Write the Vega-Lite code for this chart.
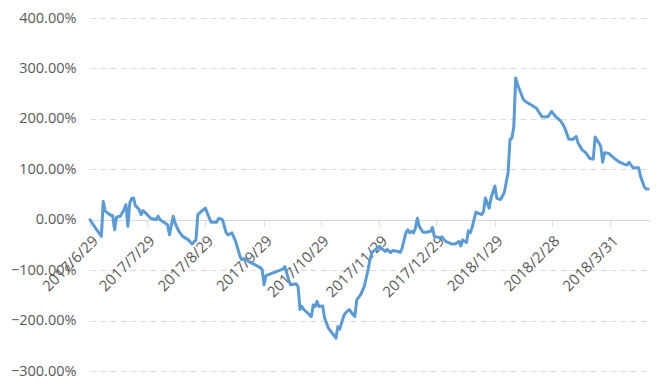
{
  "$schema": "https://vega.github.io/schema/vega-lite/v6.json",
  "width": 560,
  "height": 353,
  "autosize": {"type": "none"},
  "padding": {"left": 90, "top": 18, "right": 13, "bottom": 13},
  "background": "white",
  "config": {"view": {"stroke": null}, "font": "Open Sans"},
  "data": {"values": [
    {"date": "2017/6/29", "v": 0.00},
    {"date": "2017/7/2", "v": -0.17},
    {"date": "2017/7/5", "v": -0.33},
    {"date": "2017/7/6", "v": 0.36},
    {"date": "2017/7/7", "v": 0.17},
    {"date": "2017/7/10", "v": 0.09},
    {"date": "2017/7/11", "v": 0.08},
    {"date": "2017/7/12", "v": -0.20},
    {"date": "2017/7/13", "v": 0.05},
    {"date": "2017/7/15", "v": 0.07},
    {"date": "2017/7/17", "v": 0.20},
    {"date": "2017/7/18", "v": 0.30},
    {"date": "2017/7/19", "v": -0.13},
    {"date": "2017/7/20", "v": 0.33},
    {"date": "2017/7/21", "v": 0.42},
    {"date": "2017/7/22", "v": 0.43},
    {"date": "2017/7/23", "v": 0.28},
    {"date": "2017/7/25", "v": 0.20},
    {"date": "2017/7/26", "v": 0.10},
    {"date": "2017/7/27", "v": 0.18},
    {"date": "2017/7/29", "v": 0.11},
    {"date": "2017/7/31", "v": 0.03},
    {"date": "2017/8/3", "v": 0.00},
    {"date": "2017/8/4", "v": 0.07},
    {"date": "2017/8/5", "v": 0.00},
    {"date": "2017/8/7", "v": -0.05},
    {"date": "2017/8/9", "v": -0.10},
    {"date": "2017/8/10", "v": -0.30},
    {"date": "2017/8/12", "v": 0.07},
    {"date": "2017/8/13", "v": -0.07},
    {"date": "2017/8/15", "v": -0.23},
    {"date": "2017/8/17", "v": -0.33},
    {"date": "2017/8/20", "v": -0.40},
    {"date": "2017/8/22", "v": -0.48},
    {"date": "2017/8/24", "v": -0.40},
    {"date": "2017/8/25", "v": 0.10},
    {"date": "2017/8/27", "v": 0.17},
    {"date": "2017/8/29", "v": 0.23},
    {"date": "2017/8/30", "v": 0.13},
    {"date": "2017/9/1", "v": -0.05},
    {"date": "2017/9/4", "v": -0.05},
    {"date": "2017/9/5", "v": 0.03},
    {"date": "2017/9/7", "v": 0.00},
    {"date": "2017/9/9", "v": -0.26},
    {"date": "2017/9/10", "v": -0.30},
    {"date": "2017/9/12", "v": -0.26},
    {"date": "2017/9/14", "v": -0.43},
    {"date": "2017/9/16", "v": -0.69},
    {"date": "2017/9/17", "v": -0.79},
    {"date": "2017/9/19", "v": -0.78},
    {"date": "2017/9/21", "v": -0.83},
    {"date": "2017/9/24", "v": -0.89},
    {"date": "2017/9/27", "v": -0.95},
    {"date": "2017/9/28", "v": -0.99},
    {"date": "2017/9/29", "v": -1.29},
    {"date": "2017/9/30", "v": -1.11},
    {"date": "2017/10/9", "v": -0.98},
    {"date": "2017/10/10", "v": -0.93},
    {"date": "2017/10/12", "v": -1.19},
    {"date": "2017/10/13", "v": -1.29},
    {"date": "2017/10/16", "v": -1.27},
    {"date": "2017/10/17", "v": -1.33},
    {"date": "2017/10/18", "v": -1.78},
    {"date": "2017/10/19", "v": -1.72},
    {"date": "2017/10/20", "v": -1.78},
    {"date": "2017/10/22", "v": -1.85},
    {"date": "2017/10/24", "v": -1.92},
    {"date": "2017/10/25", "v": -1.69},
    {"date": "2017/10/26", "v": -1.72},
    {"date": "2017/10/27", "v": -1.62},
    {"date": "2017/10/28", "v": -1.72},
    {"date": "2017/10/30", "v": -1.71},
    {"date": "2017/10/31", "v": -1.95},
    {"date": "2017/11/2", "v": -2.15},
    {"date": "2017/11/4", "v": -2.25},
    {"date": "2017/11/6", "v": -2.35},
    {"date": "2017/11/7", "v": -2.12},
    {"date": "2017/11/8", "v": -2.17},
    {"date": "2017/11/10", "v": -1.92},
    {"date": "2017/11/11", "v": -1.85},
    {"date": "2017/11/13", "v": -1.78},
    {"date": "2017/11/15", "v": -1.88},
    {"date": "2017/11/16", "v": -1.92},
    {"date": "2017/11/17", "v": -1.59},
    {"date": "2017/11/19", "v": -1.49},
    {"date": "2017/11/21", "v": -1.32},
    {"date": "2017/11/23", "v": -0.99},
    {"date": "2017/11/24", "v": -0.79},
    {"date": "2017/11/25", "v": -0.65},
    {"date": "2017/11/27", "v": -0.59},
    {"date": "2017/11/29", "v": -0.53},
    {"date": "2017/11/30", "v": -0.56},
    {"date": "2017/12/2", "v": -0.63},
    {"date": "2017/12/3", "v": -0.59},
    {"date": "2017/12/5", "v": -0.65},
    {"date": "2017/12/6", "v": -0.61},
    {"date": "2017/12/9", "v": -0.63},
    {"date": "2017/12/10", "v": -0.65},
    {"date": "2017/12/11", "v": -0.56},
    {"date": "2017/12/13", "v": -0.26},
    {"date": "2017/12/14", "v": -0.20},
    {"date": "2017/12/15", "v": -0.26},
    {"date": "2017/12/16", "v": -0.23},
    {"date": "2017/12/17", "v": -0.26},
    {"date": "2017/12/18", "v": -0.17},
    {"date": "2017/12/19", "v": 0.03},
    {"date": "2017/12/20", "v": -0.13},
    {"date": "2017/12/22", "v": -0.25},
    {"date": "2017/12/24", "v": -0.25},
    {"date": "2017/12/26", "v": -0.23},
    {"date": "2017/12/27", "v": -0.15},
    {"date": "2017/12/28", "v": -0.33},
    {"date": "2017/12/31", "v": -0.36},
    {"date": "2018/1/1", "v": -0.34},
    {"date": "2018/1/3", "v": -0.43},
    {"date": "2018/1/6", "v": -0.48},
    {"date": "2018/1/8", "v": -0.48},
    {"date": "2018/1/10", "v": -0.43},
    {"date": "2018/1/11", "v": -0.52},
    {"date": "2018/1/12", "v": -0.40},
    {"date": "2018/1/14", "v": -0.45},
    {"date": "2018/1/15", "v": -0.22},
    {"date": "2018/1/16", "v": -0.26},
    {"date": "2018/1/17", "v": -0.15},
    {"date": "2018/1/19", "v": 0.15},
    {"date": "2018/1/20", "v": 0.13},
    {"date": "2018/1/22", "v": 0.10},
    {"date": "2018/1/23", "v": 0.16},
    {"date": "2018/1/24", "v": 0.43},
    {"date": "2018/1/26", "v": 0.23},
    {"date": "2018/1/27", "v": 0.43},
    {"date": "2018/1/29", "v": 0.67},
    {"date": "2018/1/30", "v": 0.43},
    {"date": "2018/2/1", "v": 0.40},
    {"date": "2018/2/3", "v": 0.54},
    {"date": "2018/2/4", "v": 0.74},
    {"date": "2018/2/5", "v": 0.93},
    {"date": "2018/2/6", "v": 1.59},
    {"date": "2018/2/7", "v": 1.62},
    {"date": "2018/2/8", "v": 1.85},
    {"date": "2018/2/9", "v": 2.81},
    {"date": "2018/2/10", "v": 2.68},
    {"date": "2018/2/13", "v": 2.39},
    {"date": "2018/2/14", "v": 2.35},
    {"date": "2018/2/17", "v": 2.28},
    {"date": "2018/2/20", "v": 2.21},
    {"date": "2018/2/21", "v": 2.15},
    {"date": "2018/2/23", "v": 2.04},
    {"date": "2018/2/26", "v": 2.04},
    {"date": "2018/2/28", "v": 2.15},
    {"date": "2018/3/2", "v": 2.05},
    {"date": "2018/3/5", "v": 1.95},
    {"date": "2018/3/7", "v": 1.82},
    {"date": "2018/3/9", "v": 1.60},
    {"date": "2018/3/11", "v": 1.59},
    {"date": "2018/3/13", "v": 1.65},
    {"date": "2018/3/14", "v": 1.52},
    {"date": "2018/3/16", "v": 1.39},
    {"date": "2018/3/18", "v": 1.33},
    {"date": "2018/3/20", "v": 1.22},
    {"date": "2018/3/22", "v": 1.20},
    {"date": "2018/3/23", "v": 1.64},
    {"date": "2018/3/25", "v": 1.52},
    {"date": "2018/3/26", "v": 1.45},
    {"date": "2018/3/27", "v": 1.14},
    {"date": "2018/3/28", "v": 1.33},
    {"date": "2018/3/30", "v": 1.32},
    {"date": "2018/4/2", "v": 1.22},
    {"date": "2018/4/5", "v": 1.14},
    {"date": "2018/4/8", "v": 1.09},
    {"date": "2018/4/9", "v": 1.09},
    {"date": "2018/4/10", "v": 1.14},
    {"date": "2018/4/12", "v": 1.03},
    {"date": "2018/4/15", "v": 1.03},
    {"date": "2018/4/16", "v": 0.86},
    {"date": "2018/4/18", "v": 0.65},
    {"date": "2018/4/19", "v": 0.61},
    {"date": "2018/4/20", "v": 0.61}
  ]},
  "mark": {"type": "line", "color": "#5B9BD5", "strokeWidth": 3, "strokeJoin": "round", "strokeCap": "round"},
  "encoding": {
    "x": {
      "field": "date",
      "type": "temporal",
      "scale": {"domain": [{"year": 2017, "month": 6, "date": 29}, {"year": 2018, "month": 4, "date": 21}]},
      "axis": {
        "title": null,
        "values": [
          {"year": 2017, "month": 6, "date": 29},
          {"year": 2017, "month": 7, "date": 29},
          {"year": 2017, "month": 8, "date": 29},
          {"year": 2017, "month": 9, "date": 29},
          {"year": 2017, "month": 10, "date": 29},
          {"year": 2017, "month": 11, "date": 29},
          {"year": 2017, "month": 12, "date": 29},
          {"year": 2018, "month": 1, "date": 29},
          {"year": 2018, "month": 2, "date": 28},
          {"year": 2018, "month": 3, "date": 31}
        ],
        "format": "%Y/%-m/%-d",
        "offset": -151,
        "grid": false,
        "domainColor": "#d9d9d9",
        "domainWidth": 1,
        "tickColor": "#d9d9d9",
        "tickSize": 6,
        "labelAngle": -45,
        "labelFontSize": 15,
        "labelColor": "#595959",
        "labelPadding": 7,
        "labelOverlap": false,
        "labelBound": false,
        "labelFlush": false
      }
    },
    "y": {
      "field": "v",
      "type": "quantitative",
      "scale": {"domain": [-3, 4], "nice": false, "zero": false},
      "axis": {
        "title": null,
        "values": [-3, -2, -1, 0, 1, 2, 3, 4],
        "format": ".2%",
        "domain": false,
        "ticks": false,
        "grid": true,
        "gridColor": "#d9d9d9",
        "gridDash": [6, 4],
        "gridWidth": 1,
        "labelFontSize": 14.5,
        "labelColor": "#595959",
        "labelPadding": 14
      }
    }
  }
}
